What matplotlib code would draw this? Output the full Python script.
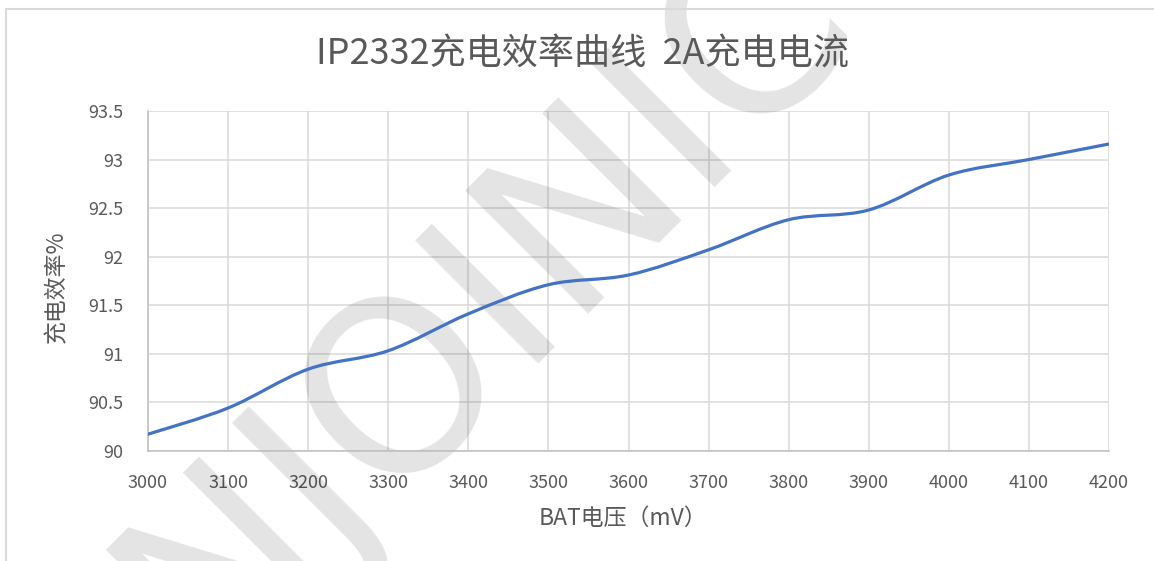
import matplotlib
matplotlib.use("Agg")
import matplotlib.pyplot as plt
from matplotlib.path import Path
from matplotlib.patches import PathPatch, Rectangle

plt.rcParams['font.family'] = ['Noto Sans CJK SC', 'DejaVu Sans']

# 数据
voltage = [3000, 3100, 3200, 3300, 3400, 3500, 3600, 3700, 3800, 3900, 4000, 4100, 4200]
efficiency = [90.17, 90.44, 90.84, 91.03, 91.41, 91.71, 91.81, 92.07, 92.38, 92.48, 92.84, 93.0, 93.16]
y_ticks = [90, 90.5, 91, 91.5, 92, 92.5, 93, 93.5]
y_tick_labels = ['90', '90.5', '91', '91.5', '92', '92.5', '93', '93.5']

title = 'IP2332充电效率曲线  2A充电电流'
x_label = 'BAT电压（mV）'
y_label = '充电效率%'

text_color = '#595959'
grid_color = '#d9d9d9'
line_color = '#4472c4'


def smooth_path(xs, ys):
    # Excel 风格的平滑线: 三次贝塞尔
    n = len(xs)
    verts = [(xs[0], ys[0])]
    codes = [Path.MOVETO]
    for i in range(n - 1):
        i0 = max(i - 1, 0)
        i3 = min(i + 2, n - 1)
        c1 = (xs[i] + (xs[i + 1] - xs[i0]) / 6, ys[i] + (ys[i + 1] - ys[i0]) / 6)
        c2 = (xs[i + 1] - (xs[i3] - xs[i]) / 6, ys[i + 1] - (ys[i3] - ys[i]) / 6)
        verts += [c1, c2, (xs[i + 1], ys[i + 1])]
        codes += [Path.CURVE4] * 3
    return Path(verts, codes)


fig = plt.figure(figsize=(11.54, 5.61), dpi=100)
ax = fig.add_axes([148 / 1154, 1 - 450.7 / 561, (1109 - 148) / 1154, (450.7 - 111) / 561])

# 外框
fig.patches.append(Rectangle((6 / 1154, -0.1), 1.2, (561 - 9) / 561 + 0.1,
                             transform=fig.transFigure, fill=False,
                             edgecolor='#d9d9d9', linewidth=1.5))

ax.add_patch(PathPatch(smooth_path(voltage, efficiency), fill=False,
                       edgecolor=line_color, linewidth=2.3, capstyle='round', zorder=3))

ax.set_xlim(3000, 4200)
ax.set_ylim(90, 93.5)
ax.set_xticks(voltage)
ax.set_yticks(y_ticks)
ax.set_yticklabels(y_tick_labels)
ax.grid(True, color=grid_color, linewidth=1.1)
ax.set_axisbelow(True)
for s in ['top', 'right']:
    ax.spines[s].set_visible(False)
for s in ['left', 'bottom']:
    ax.spines[s].set_color('#bfbfbf')
    ax.spines[s].set_linewidth(1.1)
ax.tick_params(length=0, labelsize=13, colors=text_color)
ax.tick_params(axis='x', pad=17)
ax.tick_params(axis='y', pad=18)

fig.text(583 / 1154, 1 - 55 / 561, title, ha='center', va='center',
         fontsize=26, color=text_color)
fig.text(623 / 1154, 1 - 518 / 561, x_label, ha='center', va='center',
         fontsize=16.5, color=text_color)
fig.text(57 / 1154, 1 - 287 / 561, y_label, ha='center', va='center',
         rotation=90, fontsize=16.5, color=text_color)

# 水印 (网格之上, 曲线之下)
ax.text(462 / 1154, 1 - 324 / 561, 'INJOINIC', ha='center', va='center',
        rotation=45, fontsize=172, color='black', alpha=0.11,
        family='DejaVu Sans', transform=fig.transFigure, clip_on=False, zorder=2)

fig.savefig('out.png', dpi=100)
